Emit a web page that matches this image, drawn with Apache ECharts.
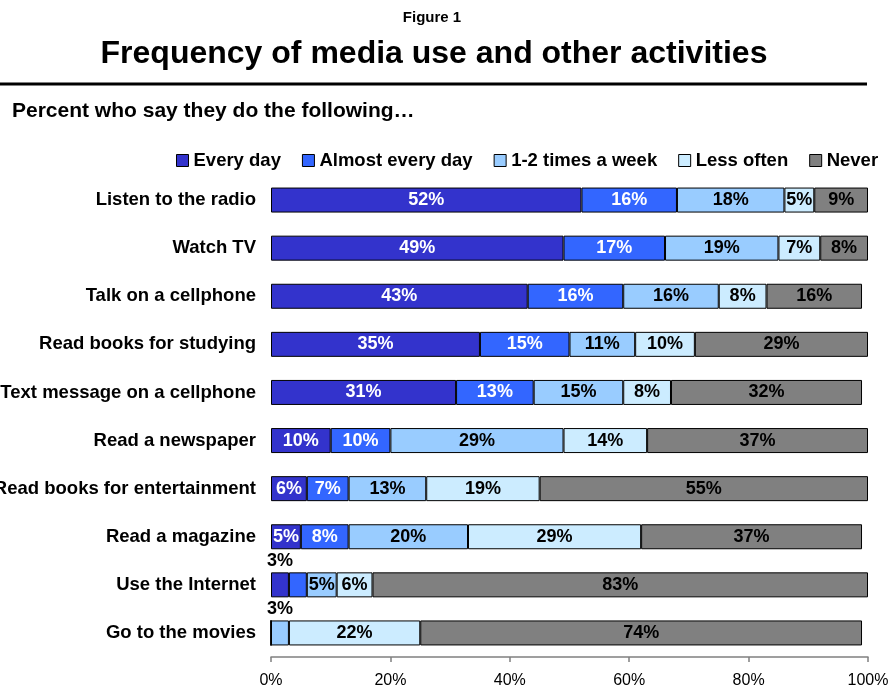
<!DOCTYPE html>
<html>
<head>
<meta charset="utf-8">
<script src="https://cdn.jsdelivr.net/npm/echarts@6/dist/echarts.min.js"></script>
<style>
  html, body { margin: 0; padding: 0; background: #fff; }
  #chart { width: 890px; height: 687px; }
</style>
</head>
<body>
<div id="chart"></div>
<script>
// Activities, top to bottom
const activities = [
  'Listen to the radio',
  'Watch TV',
  'Talk on a cellphone',
  'Read books for studying',
  'Text message on a cellphone',
  'Read a newspaper',
  'Read books for entertainment',
  'Read a magazine',
  'Use the Internet',
  'Go to the movies'
];

const frequencyNames = ['Every day', 'Almost every day', '1-2 times a week', 'Less often', 'Never'];

// Percent per activity for each frequency
const everyDay       = [52, 49, 43, 35, 31, 10, 6, 5, 3, 0];
const almostEveryDay = [16, 17, 16, 15, 13, 10, 7, 8, 3, 0];
const weekly         = [18, 19, 16, 11, 15, 29, 13, 20, 5, 3];
const lessOften      = [5, 7, 8, 10, 8, 14, 19, 29, 6, 22];
const never          = [9, 8, 16, 29, 32, 37, 55, 37, 83, 74];

const xTicks = [0, 20, 40, 60, 80, 100];

const seriesValues = [everyDay, almostEveryDay, weekly, lessOften, never];
const fillColors = ['#3333CC', '#3366FF', '#99CCFF', '#CCECFF', '#808080'];
const labelColors = ['#ffffff', '#ffffff', '#000000', '#000000', '#000000'];

// Small segments whose labels sit above the bar, or are left off
const labelAbove = { '0-8': true, '2-9': true };
const labelHidden = { '1-8': true };

const FONT = 'Liberation Sans, Arial, Helvetica, sans-serif';

const series = seriesValues.map(function (vals, s) {
  return {
    name: frequencyNames[s],
    type: 'bar',
    stack: 'total',
    barWidth: 25,
    itemStyle: { color: fillColors[s], borderColor: '#000', borderWidth: 1 },
    label: {
      show: true,
      position: 'inside',
      formatter: function (p) { return p.value > 0 ? p.value + '%' : ''; },
      color: labelColors[s],
      fontFamily: FONT,
      fontWeight: 'bold',
      fontSize: 18
    },
    data: vals.map(function (v, i) {
      const key = s + '-' + i;
      if (labelAbove[key]) {
        return { value: v, label: { position: 'top', distance: 2, color: '#000' } };
      }
      if (labelHidden[key]) {
        return { value: v, label: { show: false } };
      }
      return v;
    })
  };
});

const chart = echarts.init(document.getElementById('chart'), null, { renderer: 'canvas' });

chart.setOption({
  backgroundColor: '#ffffff',
  animation: false,
  textStyle: { fontFamily: FONT },
  graphic: [
    { type: 'text', x: 432, y: 18,
      style: { text: 'Figure 1', font: 'bold 15px ' + FONT, fill: '#000',
               textAlign: 'center', textVerticalAlign: 'middle' } },
    { type: 'text', x: 434, y: 54,
      style: { text: 'Frequency of media use and other activities', font: 'bold 32px ' + FONT,
               fill: '#000', textAlign: 'center', textVerticalAlign: 'middle' } },
    { type: 'rect', shape: { x: 0, y: 82.5, width: 867, height: 3 }, style: { fill: '#000' } },
    { type: 'text', x: 12, y: 111,
      style: { text: 'Percent who say they do the following\u2026', font: 'bold 21px ' + FONT,
               fill: '#000', textVerticalAlign: 'middle' } }
  ],
  legend: {
    left: 171,
    top: 146,
    itemWidth: 12,
    itemHeight: 12,
    itemGap: 21,
    icon: 'rect',
    itemStyle: { borderColor: '#000', borderWidth: 1 },
    textStyle: { fontFamily: FONT, fontWeight: 'bold', fontSize: 18.5, color: '#000' },
    data: frequencyNames
  },
  grid: { left: 271, right: 22, top: 176, bottom: 30, containLabel: false, outerBoundsMode: 'none' },
  xAxis: {
    type: 'value',
    min: 0,
    max: 100,
    interval: 20,
    axisLine: { show: true, lineStyle: { color: '#808080', width: 1.5 } },
    axisTick: { show: true, length: 5, lineStyle: { color: '#808080', width: 1.5 } },
    splitLine: { show: false },
    axisLabel: {
      margin: 16,
      fontFamily: FONT,
      fontSize: 16,
      color: '#000',
      formatter: function (v) { return xTicks.indexOf(v) >= 0 ? v + '%' : ''; }
    }
  },
  yAxis: {
    type: 'category',
    inverse: true,
    data: activities,
    axisLine: { show: false },
    axisTick: { show: false },
    axisLabel: {
      margin: 15,
      fontFamily: FONT,
      fontWeight: 'bold',
      fontSize: 18.5,
      color: '#000'
    }
  },
  series: series
});
</script>
</body>
</html>
